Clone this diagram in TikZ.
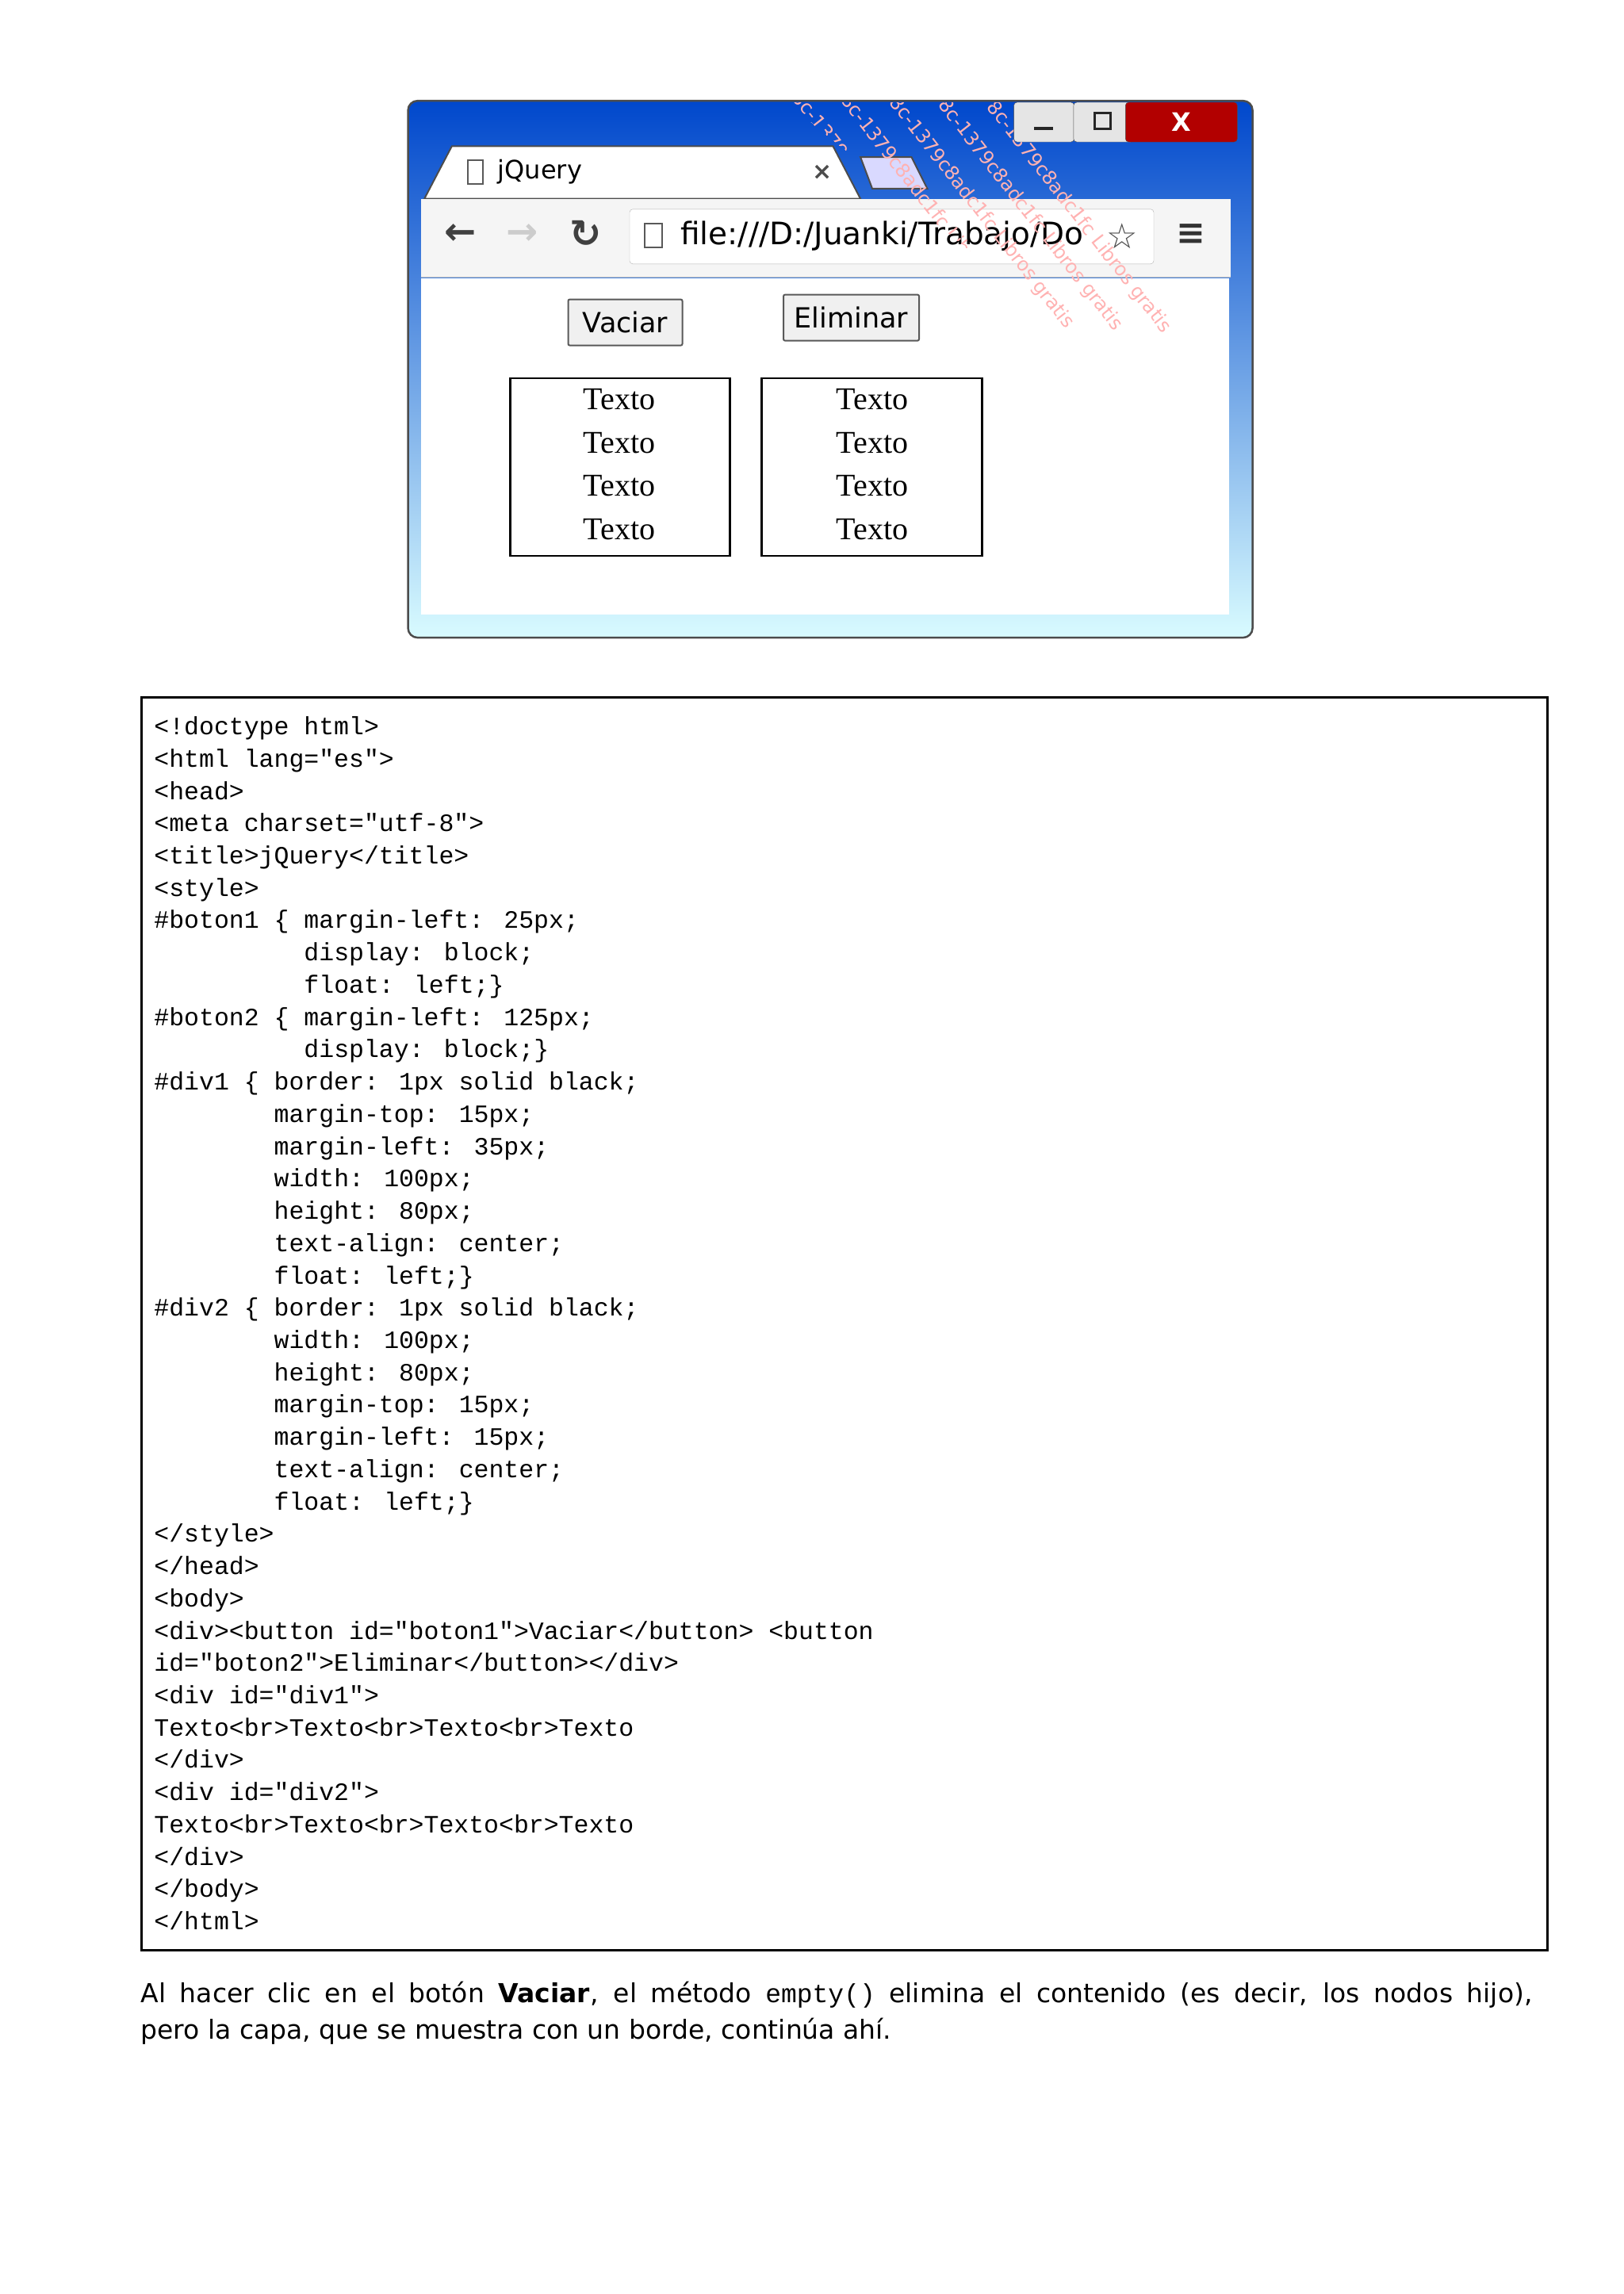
\documentclass[tikz,border=0pt]{standalone}
\usepackage{fontspec}
\setmainfont{DejaVu Sans}
\newfontfamily\codefont{Liberation Mono}
\newfontfamily\uifont{DejaVu Sans}
\newfontfamily\serifui{Liberation Serif}
\begin{document}
\begin{tikzpicture}[x=0.991pt,y=-0.991pt,
  codeline/.style={anchor=base west,inner sep=0,font=\codefont\fontsize{31.5}{41}\selectfont},
  btn/.style={draw=gray!70!black,line width=2pt,fill=gray!12,rounded corners=2pt,font=\uifont\fontsize{35}{40}\selectfont},
  divbox/.style={draw=black,line width=2.5pt},
  tx/.style={font=\serifui\fontsize{40}{44}\selectfont,inner sep=0},
  wm/.style={text=red!30!white,font=\uifont\fontsize{24}{26}\selectfont,rotate=-52,anchor=west}]
\useasboundingbox (0,0) rectangle (2066.6,2919.3);
\fill[white] (0,0) rectangle (2066.6,2919.3);
% browser frame
\node[draw=gray!60!black,line width=2.5pt,rounded corners=12pt,minimum width=1065,minimum height=677,anchor=north west,inner sep=0,
  top color=blue!65!cyan!80!black,bottom color=blue!10!cyan!15!white] (win) at (518,127) {};
% tab
\draw[fill=white,draw=gray!60!black,line width=2pt] (540,253) -- (575,186) -- (1060,186) -- (1095,253) -- cycle;
\node[anchor=west,font=\uifont\fontsize{32}{34}\selectfont] (tabtitle) at (630,219) {jQuery};
\draw[line width=2pt,gray!70!black] (595,204) rectangle (615,234);
\node[font=\uifont\bfseries\fontsize{30}{30}\selectfont,text=gray!60!black] (tabx) at (1046,219) {×};
\draw[fill=blue!15!white,draw=gray!60!black,line width=2pt] (1095,200) -- (1160,200) -- (1180,240) -- (1110,240) -- cycle;
% toolbar
\fill[gray!8] (536,253) rectangle (1566,352);
\draw[gray!50] (536,352) -- (1566,352);
\node[font=\uifont\bfseries\fontsize{48}{48}\selectfont,text=gray!50!black] (back) at (586,298) {←};
\node[font=\uifont\bfseries\fontsize{48}{48}\selectfont,text=gray!40] (fwd) at (665,298) {→};
\node[font=\uifont\bfseries\fontsize{48}{48}\selectfont,text=gray!50!black] (rel) at (745,298) {↻};
\node[draw=gray!60,fill=white,rounded corners=4pt,minimum width=661,minimum height=69,anchor=north west] (addr) at (801,266) {};
\draw[line width=2pt,gray!70!black] (820,285) rectangle (843,315);
\node[anchor=west,font=\uifont\fontsize{39}{42}\selectfont,inner sep=0] (url) at (866,300) {file:///D:/Juanki/Trabajo/Do};
\node[font=\uifont\fontsize{44}{44}\selectfont,text=gray!60!black] (star) at (1428,300) {☆};
\node[font=\uifont\bfseries\fontsize{44}{44}\selectfont,text=gray!40!black] (menu) at (1516,298) {≡};
% content
\fill[white] (536,354) rectangle (1564,782);
% watermark
\begin{scope}
\clip (1000,130) -- (1583,130) -- (1583,600) -- cycle;
\foreach \i in {0,...,4}{
  \node[wm] at (1010+\i*62,118+\i*3) {8c-1379c8adc1fc Libros gratis};}
\end{scope}
% window controls
\node[draw=gray!60!black,fill=gray!20,rounded corners=4pt,minimum width=76,minimum height=50,anchor=north west] (minb) at (1290,130) {};
\node[draw=gray!60!black,fill=gray!20,rounded corners=4pt,minimum width=76,minimum height=50,anchor=north west] (maxb) at (1366,130) {};
\node[draw=gray!60!black,fill=red!70!black,rounded corners=4pt,minimum width=141,minimum height=50,anchor=north west,text=white,font=\uifont\bfseries\fontsize{32}{32}\selectfont] (closeb) at (1432,130) {X};
\draw[line width=4pt,gray!30!black] (1316,163) -- (1340,163);
\draw[line width=3pt,gray!30!black] (1393,144) rectangle (1413,164);
\node[btn,minimum width=144,minimum height=58,anchor=north west] (vaciar) at (722,380) {Vaciar};
\node[btn,minimum width=171,minimum height=58,anchor=north west] (eliminar) at (996,374) {Eliminar};
\node[divbox,minimum width=277,minimum height=224,anchor=north west] (div1) at (648,480) {};
\node[divbox,minimum width=278,minimum height=224,anchor=north west] (div2) at (968,480) {};
\foreach \y/\n in {508/a,564/b,618/c,674/d}{
  \node[tx] (t1\n) at (788,\y) {Texto};
  \node[tx] (t2\n) at (1110,\y) {Texto};}
% code box
\node[draw=black,line width=2.5pt,minimum width=1773,minimum height=1580,anchor=north west,inner sep=0] (code) at (179,886) {};
\foreach \l [count=\i from 0] in {
{<!doctype html>},
{<html lang="es">},
{<head>},
{<meta charset="utf-8">},
{<title>jQuery</title>},
{<style>},
{\#boton1 \{ margin-left: 25px;},
{\ \ \ \ \ \ \ \ \ \ display: block;},
{\ \ \ \ \ \ \ \ \ \ float: left;\}},
{\#boton2 \{ margin-left: 125px;},
{\ \ \ \ \ \ \ \ \ \ display: block;\}},
{\#div1 \{ border: 1px solid black;},
{\ \ \ \ \ \ \ \ margin-top: 15px;},
{\ \ \ \ \ \ \ \ margin-left: 35px;},
{\ \ \ \ \ \ \ \ width: 100px;},
{\ \ \ \ \ \ \ \ height: 80px;},
{\ \ \ \ \ \ \ \ text-align: center;},
{\ \ \ \ \ \ \ \ float: left;\}},
{\#div2 \{ border: 1px solid black;},
{\ \ \ \ \ \ \ \ width: 100px;},
{\ \ \ \ \ \ \ \ height: 80px;},
{\ \ \ \ \ \ \ \ margin-top: 15px;},
{\ \ \ \ \ \ \ \ margin-left: 15px;},
{\ \ \ \ \ \ \ \ text-align: center;},
{\ \ \ \ \ \ \ \ float: left;\}},
{</style>},
{</head>},
{<body>},
{<div><button id="boton1">Vaciar</button> <button},
{id="boton2">Eliminar</button></div>},
{<div id="div1">},
{Texto<br>Texto<br>Texto<br>Texto},
{</div>},
{<div id="div2">},
{Texto<br>Texto<br>Texto<br>Texto},
{</div>},
{</body>},
{</html>}}{
  \node[codeline] (c\i) at (196,{935+\i*41.1}) {\l};}
% caption
\node[anchor=north west,inner sep=0,text width=1755,align=justify,font=\fontsize{33}{46}\selectfont] (cap) at (179,2522)
 {Al hacer clic en el botón \textbf{Vaciar}, el método {\codefont empty()} elimina el contenido (es decir, los nodos hijo),\linebreak pero la capa, que se muestra con un borde, continúa ahí.};
\end{tikzpicture}
\end{document}
